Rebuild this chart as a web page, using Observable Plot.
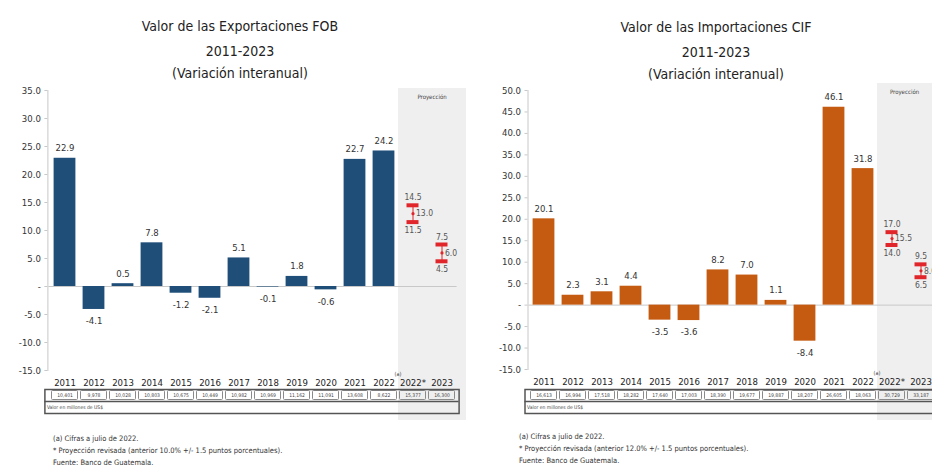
<!DOCTYPE html>
<html><head><meta charset="utf-8">
<script src="https://cdn.jsdelivr.net/npm/d3@7"></script>
<script src="https://cdn.jsdelivr.net/npm/@observablehq/plot@0.6"></script>
<style>
html,body{margin:0;padding:0;background:#fff;}
body{width:932px;height:475px;overflow:hidden;position:relative;font-family:"DejaVu Sans Condensed","DejaVu Sans",sans-serif;font-stretch:condensed;color:#222;}
.abs{position:absolute;white-space:nowrap;line-height:1;}
svg{position:absolute;}
svg, svg text{font-family:"DejaVu Sans Condensed","DejaVu Sans",sans-serif;font-stretch:condensed;}
</style>
</head><body>
<script>
// ---------- data ----------
const categories = ["2011","2012","2013","2014","2015","2016","2017","2018","2019","2020","2021","2022","2022*","2023"];
const histCategories = categories.slice(0, 12);
const projCategories = ["2022*","2023"];

const exportValues = [22.9,-4.1,0.5,7.8,-1.2,-2.1,5.1,-0.1,1.8,-0.6,22.7,24.2];
const exportProjLow  = [11.5, 4.5];
const exportProjMid  = [13.0, 6.0];
const exportProjHigh = [14.5, 7.5];
const exportTable = ["10,401","9,978","10,028","10,803","10,675","10,449","10,982","10,969","11,162","11,091","13,608","8,622","15,377","16,300"];
const exportTicks = [-15,-10,-5,0,5,10,15,20,25,30,35];

const importValues = [20.1,2.3,3.1,4.4,-3.5,-3.6,8.2,7.0,1.1,-8.4,46.1,31.8];
const importProjLow  = [14.0, 6.5];
const importProjMid  = [15.5, 8.0];
const importProjHigh = [17.0, 9.5];
const importTable = ["16,613","16,994","17,518","18,282","17,640","17,003","18,390","19,677","19,887","18,207","26,605","18,063","30,729","33,187"];
const importTicks = [-15,-10,-5,0,5,10,15,20,25,30,35,40,45,50];

const unitLabel = "Valor en millones de US$";
const exportTitle = ["Valor de las Exportaciones FOB","2011-2023","(Variación interanual)"];
const importTitle = ["Valor de las Importaciones CIF","2011-2023","(Variación interanual)"];
const exportNotes = ["(a) Cifras a julio de 2022.","* Proyección revisada (anterior 10.0% +/- 1.5 puntos porcentuales).","Fuente: Banco de Guatemala."];
const importNotes = ["(a) Cifras a julio de 2022.","* Proyección revisada (anterior 12.0% +/- 1.5 puntos porcentuales).","Fuente: Banco de Guatemala."];

// ---------- drawing ----------
const RED = "#e0262b";

function addText(txt, x, y, size, anchor, color, extra) {
  const d = document.createElement("div");
  d.className = "abs";
  d.textContent = txt;
  d.style.left = x + "px";
  d.style.top = y + "px";
  d.style.fontSize = size + "px";
  d.style.color = color || "#222";
  const tx = anchor === "start" ? "0" : anchor === "end" ? "-100%" : "-50%";
  d.style.transform = `translate(${tx},-50%)`;
  if (extra) Object.assign(d.style, extra);
  document.body.appendChild(d);
  return d;
}

function panel(cfg) {
  const data = histCategories.map((c, i) => ({cat: c, value: cfg.values[i]}));
  const proj = projCategories.map((c, i) => ({cat: c, low: cfg.low[i], mid: cfg.mid[i], high: cfg.high[i]}));
  const tbl = categories.map((c, i) => ({cat: c, v: cfg.table[i]}));

  const xOpts = {type: "band", domain: categories, padding: 0};
  const chart = Plot.plot({
    width: cfg.width, height: 395,
    marginTop: 90, marginBottom: 395 - cfg.yBottom, marginLeft: cfg.marginLeft, marginRight: cfg.marginRight,
    style: {background: "transparent", overflow: "visible"},
    x: xOpts,
    y: {domain: [cfg.ticks[0], cfg.ticks[cfg.ticks.length - 1]]},
    marks: [
      Plot.frame({anchor: "left", stroke: "#c8c8c8", dx: -1}),
      Plot.axisY({ticks: cfg.ticks, tickFormat: d => d === 0 ? "-" : d.toFixed(1), tickSize: 3, tickPadding: 4, stroke: "#c8c8c8", fill: "#333", fontSize: 9.5, dx: -1, label: null}),
      Plot.ruleY([0], {stroke: "#c8c8c8"}),
      Plot.barY(data, {x: "cat", y: "value", fill: cfg.color, insetLeft: 3.6, insetRight: 3.6}),
      Plot.text(data.filter(d => d.value >= 0), {x: "cat", y: "value", text: d => d.value.toFixed(1), lineAnchor: "bottom", dy: -7, fill: "#333", fontSize: 9.5}),
      Plot.text(data.filter(d => d.value < 0), {x: "cat", y: "value", text: d => d.value.toFixed(1), lineAnchor: "top", dy: 8, fill: "#333", fontSize: 9.5}),
      Plot.ruleX(proj, {x: "cat", y1: "low", y2: "high", stroke: RED, strokeWidth: 1}),
      Plot.tickY(proj, {x: "cat", y: "high", stroke: RED, strokeWidth: 4, insetLeft: 8.5, insetRight: 8.5}),
      Plot.tickY(proj, {x: "cat", y: "low", stroke: RED, strokeWidth: 4, insetLeft: 8.5, insetRight: 8.5}),
      Plot.dot(proj, {x: "cat", y: "mid", r: 1.6, fill: RED}),
      Plot.text(proj, {x: "cat", y: "high", text: d => d.high.toFixed(1), lineAnchor: "bottom", dy: -5, fill: "#555", fontSize: 8.5}),
      Plot.text(proj, {x: "cat", y: "low", text: d => d.low.toFixed(1), lineAnchor: "top", dy: 5, fill: "#555", fontSize: 8.5}),
      Plot.text(proj, {x: "cat", y: "mid", text: d => d.mid.toFixed(1), textAnchor: "start", dx: 3, fill: "#555", fontSize: 8.5}),
      Plot.axisX({tickSize: 0, tickPadding: 9, fontSize: 9.5, fill: "#222", label: null})
    ]
  });

  const table = Plot.plot({
    width: cfg.width, height: 24,
    marginTop: 0, marginBottom: 0, marginLeft: cfg.marginLeft, marginRight: cfg.marginRight,
    style: {background: "transparent", overflow: "visible"},
    x: {...xOpts, axis: null},
    y: {type: "band", domain: ["v", "u"], padding: 0, axis: null},
    marks: [
      Plot.cell(tbl, {x: "cat", y: () => "v", stroke: "#8a8a8a", fill: "none", inset: 1.5, rx: 1}),
      Plot.text(tbl, {x: "cat", y: () => "v", text: "v", fontSize: 5, fill: "#444"}),
      Plot.ruleY(["u"], {y: d => d, dy: -6, stroke: "#555", strokeWidth: 1.5, insetLeft: -4, insetRight: -2}),
      Plot.frame({stroke: "#555", strokeWidth: 1.5, insetLeft: -4, insetRight: -2}),
      Plot.text([unitLabel], {y: () => "u", frameAnchor: "left", textAnchor: "start", dx: -2, fontSize: 5, fill: "#444"})
    ]
  });

  const x = chart.scale("x");
  const shadeLeft = cfg.left + x.apply("2022*");

  // shaded projection zone
  const sh = document.createElement("div");
  Object.assign(sh.style, {position: "absolute", left: shadeLeft + "px", top: cfg.shadeTop + "px",
    width: (cfg.shadeRight - shadeLeft) + "px", height: (cfg.shadeBottom - cfg.shadeTop) + "px", background: "#efefef"});
  document.body.appendChild(sh);

  chart.style.left = cfg.left + "px"; chart.style.top = "0px";
  table.style.left = cfg.left + "px"; table.style.top = cfg.tableTop + "px";
  document.body.appendChild(chart);
  document.body.appendChild(table);

  addText("Proyección", (shadeLeft + cfg.shadeRight) / 2, cfg.shadeTop + 9, 6, "middle", "#444");
  addText("(a)", shadeLeft, cfg.yBottom + 5, 5.5, "middle", "#444");

  cfg.title.forEach((t, i) => addText(t, cfg.titleX, cfg.titleY[i], 14, "middle", "#222"));
  cfg.notes.forEach((t, i) => addText(t, cfg.noteX, cfg.noteY[i], 7.5, "start", "#333"));
}

panel({
  left: 0, width: 466, marginLeft: 48.4, marginRight: 9.4, yBottom: 370,
  ticks: exportTicks, color: "#1f4e79",
  values: exportValues, low: exportProjLow, mid: exportProjMid, high: exportProjHigh, table: exportTable,
  shadeTop: 88, shadeBottom: 420, shadeRight: 466, tableTop: 389,
  title: exportTitle, titleX: 240, titleY: [26, 51, 73],
  notes: exportNotes, noteX: 53, noteY: [439, 451, 463]
});
panel({
  left: 466, width: 470, marginLeft: 62.5, marginRight: 1.5, yBottom: 369,
  ticks: importTicks, color: "#c55a11",
  values: importValues, low: importProjLow, mid: importProjMid, high: importProjHigh, table: importTable,
  shadeTop: 83, shadeBottom: 420, shadeRight: 932, tableTop: 389,
  title: importTitle, titleX: 716, titleY: [27, 52, 74],
  notes: importNotes, noteX: 519, noteY: [437, 449, 461]
});
</script>
</body></html>
